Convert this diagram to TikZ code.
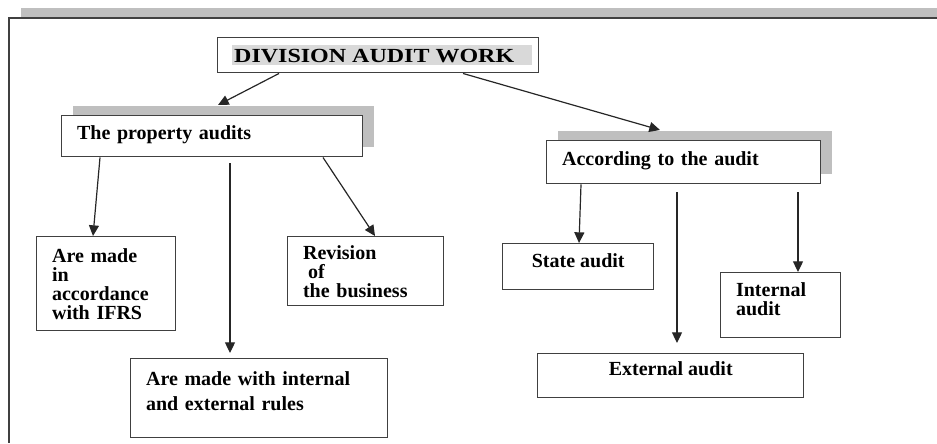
\documentclass[tikz,border=0pt]{standalone}
\usepackage{fontspec}
\setmainfont{Liberation Serif}
\usetikzlibrary{arrows.meta,calc,shadows}
\definecolor{shadowgray}{HTML}{BFBFBF}
\definecolor{hlgray}{HTML}{D9D9D9}
\definecolor{boxline}{HTML}{404040}
\setlength{\fboxsep}{1.5pt}
\begin{document}
\begin{tikzpicture}[x=0.75pt,y=-0.75pt,
  box/.style={draw=boxline,line width=1.1pt,anchor=north west,inner ysep=0pt,
    font=\fontsize{15}{14.25}\selectfont\bfseries},
  lbox/.style={box,align=left,inner xsep=11.5pt},
  cbox/.style={box,align=center},
  raised/.style={text depth=#1},
  shade/.style={fill=white,general shadow={shadow xshift=8.25pt,shadow yshift=7.5pt,fill=shadowgray}},
  arr/.style={-{Triangle[length=8pt,width=7.5pt]},line width=0.9pt,draw=black!85}]
\useasboundingbox (0,0) rectangle (937,443);
\fill[shadowgray] (21,8) rectangle (937,17);
\draw[line width=1.5pt,draw=boxline] (937,18) -- (9,18) -- (9,443);
\node[cbox,minimum width=240.75pt,minimum height=26.25pt] (division) at (217,37)
  {\hspace*{6pt}\colorbox{hlgray}{\rule[-0.2pt]{0pt}{11.8pt}\scalebox{1.2}[1]{DIVISION AUDIT WORK}\hspace{12pt}}};
\node[lbox,shade,text width=202.75pt,minimum height=30.75pt,raised=5pt] (property) at (61,115) {The property audits};
\node[lbox,shade,text width=182.5pt,minimum height=32.25pt,raised=5pt] (according) at (546,140) {According to the audit};
\node[lbox,text width=81.25pt,minimum height=70.5pt] (ifrs) at (36,236) {Are made\\in\\accordance\\with IFRS};
\node[lbox,text width=94pt,minimum height=51.75pt] (revision) at (287,236) {Revision\\\hspace*{3.75pt}of\\the business};
\node[lbox,text width=169.75pt,minimum height=59.25pt,raised=29pt,font=\fontsize{15}{18.75}\selectfont\bfseries] (rules) at (130,358)
  {Are made with internal\\and external rules};
\node[cbox,minimum width=113.25pt,minimum height=34.5pt,raised=9pt] (state) at (502,243) {State audit};
\node[lbox,text width=67pt,minimum height=48.75pt,raised=23pt] (internal) at (720,272) {Internal\\audit};
\node[cbox,minimum width=199.5pt,minimum height=33pt,raised=10.5pt] (external) at (537,353) {External audit};
\draw[arr] ($(division.south west)+(62,0)$) -- ($(property.north west)+(157,-10)$);
\draw[arr] ($(division.south west)+(246,0)$) -- ($(according.north west)+(114,-10)$);
\draw[arr] ($(property.south west)+(39,0)$) -- ($(ifrs.north west)+(57,0)$);
\draw[arr] ($(property.south west)+(169,6)$) -- ($(rules.north west)+(100,-5)$);
\draw[arr] ($(property.south west)+(262,0)$) -- ($(revision.north west)+(88,0)$);
\draw[arr] ($(according.south west)+(35,0)$) -- ($(state.north west)+(77,0)$);
\draw[arr] ($(according.south west)+(131,8)$) -- ($(external.north west)+(140,-10)$);
\draw[arr] ($(according.south west)+(252,8)$) -- ($(internal.north west)+(78,0)$);
\end{tikzpicture}
\end{document}
